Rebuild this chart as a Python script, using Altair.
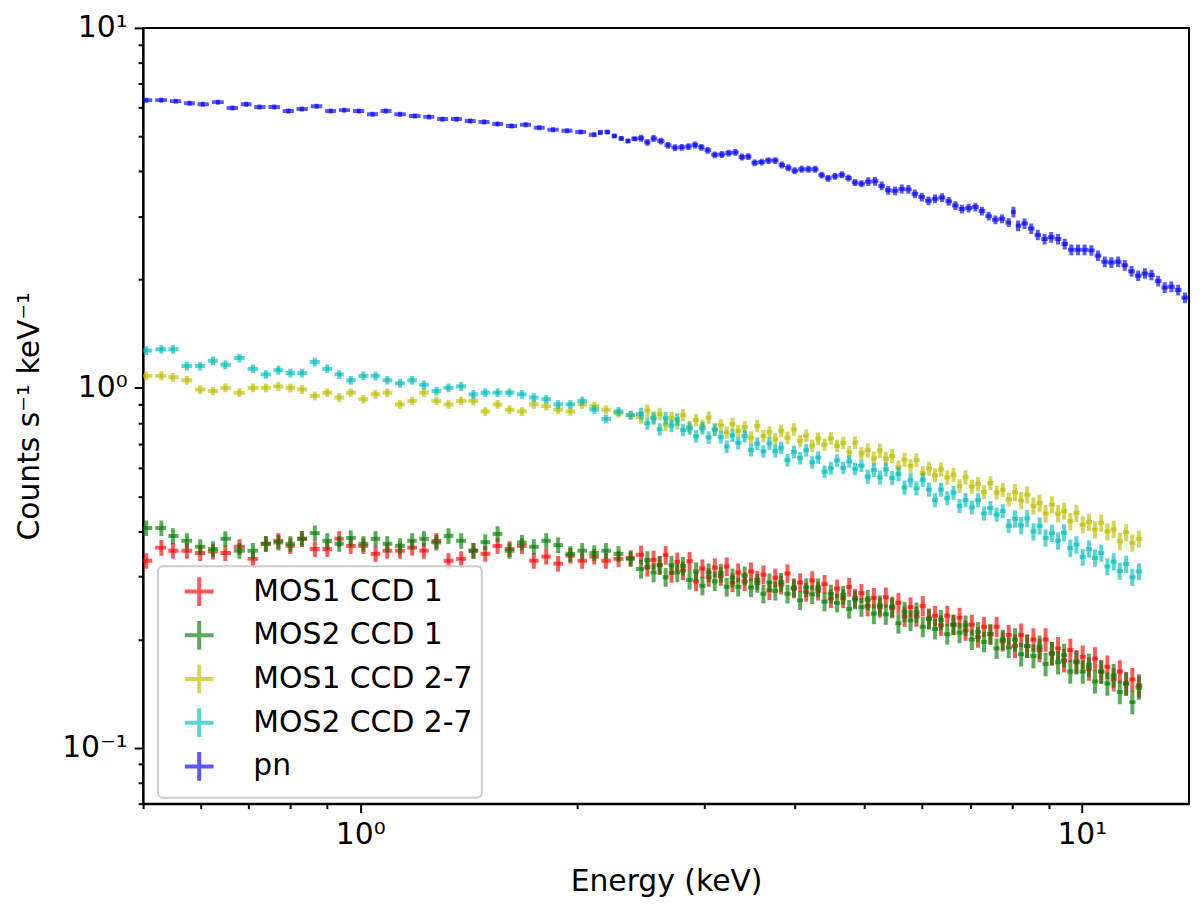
import altair as alt
import numpy as np
import pandas as pd

# MOS spectra share one energy grid (bin centres, keV)
MOS_ENERGY = [
    0.505, 0.53, 0.55, 0.575, 0.60, 0.625, 0.65, 0.68, 0.71, 0.74,
    0.77, 0.80, 0.83, 0.865, 0.90, 0.935, 0.97, 1.01, 1.05, 1.09,
    1.135, 1.18, 1.225, 1.275, 1.325, 1.38, 1.435, 1.49, 1.55, 1.61,
    1.675, 1.74, 1.81, 1.88, 1.955, 2.03, 2.11, 2.19, 2.28, 2.37,
    2.45, 2.50, 2.55, 2.60, 2.65, 2.70, 2.75, 2.80, 2.86, 2.92,
    2.98, 3.04, 3.10, 3.16, 3.22, 3.28, 3.34, 3.41, 3.48, 3.55,
    3.62, 3.69, 3.76, 3.83, 3.91, 3.99, 4.07, 4.15, 4.23, 4.31,
    4.40, 4.49, 4.58, 4.67, 4.76, 4.85, 4.95, 5.05, 5.15, 5.25,
    5.35, 5.46, 5.57, 5.68, 5.79, 5.90, 6.02, 6.14, 6.26, 6.38,
    6.51, 6.64, 6.77, 6.90, 7.04, 7.18, 7.32, 7.47, 7.62, 7.77,
    7.92, 8.08, 8.24, 8.40, 8.57, 8.74, 8.91, 9.09, 9.27, 9.45,
    9.64, 9.83, 10.03, 10.23, 10.43, 10.64, 10.85, 11.07, 11.29, 11.52,
    11.75, 12.00,
]

MOS1_CCD1 = [
    0.331, 0.360, 0.353, 0.353, 0.348, 0.351, 0.348, 0.362, 0.335, 0.369,
    0.376, 0.364, 0.381, 0.357, 0.357, 0.381, 0.364, 0.364, 0.346, 0.353,
    0.353, 0.360, 0.353, 0.376, 0.331, 0.335, 0.353, 0.346, 0.364, 0.357,
    0.364, 0.331, 0.340, 0.325, 0.342, 0.331, 0.340, 0.331, 0.335, 0.337,
    0.344, 0.318, 0.333, 0.322, 0.343, 0.306, 0.329, 0.311, 0.330, 0.290,
    0.315, 0.298, 0.317, 0.300, 0.319, 0.288, 0.307, 0.290, 0.309, 0.293,
    0.303, 0.274, 0.297, 0.284, 0.305, 0.277, 0.288, 0.271, 0.292, 0.273,
    0.285, 0.260, 0.277, 0.260, 0.280, 0.261, 0.269, 0.248, 0.261, 0.246,
    0.262, 0.245, 0.253, 0.232, 0.246, 0.232, 0.248, 0.229, 0.233, 0.219,
    0.233, 0.220, 0.230, 0.212, 0.220, 0.203, 0.217, 0.207, 0.217, 0.198,
    0.206, 0.192, 0.206, 0.192, 0.200, 0.187, 0.200, 0.183, 0.189, 0.175,
    0.187, 0.174, 0.179, 0.166, 0.177, 0.163, 0.168, 0.155, 0.163, 0.151,
    0.155, 0.149,
]

MOS2_CCD1 = [
    0.408, 0.408, 0.388, 0.376, 0.362, 0.357, 0.381, 0.353, 0.353, 0.369,
    0.372, 0.369, 0.381, 0.395, 0.376, 0.369, 0.383, 0.369, 0.381, 0.369,
    0.364, 0.376, 0.381, 0.372, 0.388, 0.376, 0.353, 0.373, 0.393, 0.353,
    0.372, 0.362, 0.376, 0.366, 0.346, 0.353, 0.348, 0.353, 0.346, 0.335,
    0.314, 0.332, 0.307, 0.322, 0.298, 0.322, 0.307, 0.320, 0.293, 0.309,
    0.282, 0.307, 0.290, 0.306, 0.280, 0.297, 0.280, 0.301, 0.279, 0.287,
    0.268, 0.288, 0.273, 0.289, 0.268, 0.279, 0.257, 0.279, 0.267, 0.279,
    0.255, 0.268, 0.253, 0.266, 0.243, 0.258, 0.246, 0.258, 0.236, 0.249,
    0.235, 0.247, 0.222, 0.239, 0.226, 0.238, 0.217, 0.228, 0.214, 0.227,
    0.207, 0.220, 0.209, 0.219, 0.200, 0.210, 0.197, 0.207, 0.189, 0.200,
    0.190, 0.200, 0.182, 0.192, 0.180, 0.191, 0.171, 0.183, 0.173, 0.181,
    0.163, 0.173, 0.163, 0.170, 0.153, 0.163, 0.151, 0.159, 0.143, 0.151,
    0.134, 0.147,
]

MOS1_CCD27 = [
    1.08, 1.08, 1.07, 1.05, 0.99, 0.98, 1.00, 0.97, 1.00, 1.00,
    1.01, 1.00, 0.99, 0.95, 0.97, 0.94, 0.97, 0.93, 0.96, 0.97,
    0.90, 0.92, 0.97, 0.92, 0.90, 0.92, 0.92, 0.86, 0.90, 0.87,
    0.86, 0.90, 0.89, 0.87, 0.86, 0.90, 0.89, 0.87, 0.85, 0.84,
    0.829, 0.865, 0.827, 0.846, 0.790, 0.826, 0.797, 0.840, 0.779, 0.814,
    0.785, 0.827, 0.767, 0.787, 0.752, 0.794, 0.759, 0.778, 0.728, 0.784,
    0.735, 0.753, 0.720, 0.760, 0.727, 0.767, 0.712, 0.737, 0.691, 0.723,
    0.696, 0.724, 0.690, 0.704, 0.663, 0.705, 0.658, 0.671, 0.637, 0.670,
    0.636, 0.647, 0.602, 0.632, 0.607, 0.630, 0.580, 0.597, 0.572, 0.594,
    0.564, 0.574, 0.534, 0.565, 0.532, 0.541, 0.514, 0.544, 0.512, 0.521,
    0.490, 0.513, 0.487, 0.505, 0.470, 0.479, 0.448, 0.474, 0.448, 0.455,
    0.426, 0.449, 0.417, 0.424, 0.404, 0.422, 0.399, 0.405, 0.375, 0.397,
    0.371, 0.381,
]

MOS2_CCD27 = [
    1.27, 1.28, 1.28, 1.15, 1.15, 1.19, 1.16, 1.21, 1.13, 1.09,
    1.12, 1.10, 1.10, 1.18, 1.13, 1.09, 1.05, 1.08, 1.08, 1.05,
    1.03, 1.05, 1.02, 0.98, 1.00, 1.01, 0.96, 0.97, 0.97, 0.97,
    0.96, 0.94, 0.93, 0.90, 0.90, 0.92, 0.87, 0.82, 0.86, 0.84,
    0.847, 0.797, 0.823, 0.767, 0.824, 0.785, 0.817, 0.764, 0.772, 0.734,
    0.773, 0.728, 0.766, 0.730, 0.687, 0.738, 0.703, 0.735, 0.672, 0.700,
    0.666, 0.701, 0.668, 0.682, 0.630, 0.664, 0.638, 0.671, 0.621, 0.641,
    0.585, 0.598, 0.629, 0.600, 0.625, 0.596, 0.608, 0.567, 0.592, 0.564,
    0.594, 0.562, 0.576, 0.529, 0.554, 0.526, 0.555, 0.522, 0.488, 0.522,
    0.494, 0.512, 0.470, 0.488, 0.466, 0.488, 0.448, 0.464, 0.445, 0.455,
    0.414, 0.433, 0.415, 0.434, 0.399, 0.414, 0.383, 0.395, 0.376, 0.396,
    0.359, 0.367, 0.339, 0.357, 0.337, 0.348, 0.319, 0.329, 0.310, 0.324,
    0.298, 0.309,
]

PN_ENERGY = [
    0.505, 0.53, 0.555, 0.58, 0.605, 0.635, 0.665, 0.695, 0.725, 0.76,
    0.795, 0.83, 0.87, 0.91, 0.95, 0.995, 1.04, 1.085, 1.135, 1.19,
    1.245, 1.30, 1.36, 1.42, 1.485, 1.55, 1.62, 1.695, 1.77, 1.85,
    1.935, 2.02, 2.11,
    2.15, 2.20, 2.25, 2.30, 2.35, 2.40, 2.45, 2.50, 2.55, 2.61,
    2.67, 2.73, 2.79, 2.85, 2.91, 2.97, 3.03, 3.10, 3.17, 3.24,
    3.31, 3.38, 3.45, 3.52, 3.60, 3.68, 3.76, 3.84, 3.92, 4.00,
    4.09, 4.18, 4.27, 4.36, 4.45, 4.55, 4.65, 4.75, 4.85, 4.95,
    5.06, 5.17, 5.28, 5.39, 5.51, 5.63, 5.75, 5.87, 6.00, 6.13,
    6.26, 6.40, 6.54, 6.68, 6.82, 6.97, 7.12, 7.27, 7.43, 7.59,
    7.75, 7.92, 8.04, 8.16, 8.33, 8.51, 8.69, 8.88, 9.07, 9.27,
    9.47, 9.67, 9.88, 10.09, 10.31, 10.53, 10.76, 10.99, 11.23, 11.47,
    11.72, 11.97, 12.23, 12.49, 12.76, 13.03, 13.31, 13.60, 13.90,
]

PN_RATE = [
    6.30, 6.30, 6.26, 6.18, 6.14, 6.22, 5.99, 6.14, 6.03, 6.03,
    5.88, 5.95, 6.06, 5.88, 5.91, 5.88, 5.76, 5.88, 5.76, 5.69,
    5.66, 5.58, 5.58, 5.51, 5.48, 5.41, 5.34, 5.38, 5.28, 5.21,
    5.18, 5.14, 5.05,
    5.12, 5.14, 5.01, 4.93, 4.85, 4.92, 4.94, 4.81, 4.93, 4.85,
    4.72, 4.65, 4.66, 4.68, 4.73, 4.66, 4.57, 4.44, 4.45, 4.49,
    4.51, 4.38, 4.39, 4.22, 4.24, 4.28, 4.28, 4.16, 4.09, 4.01,
    4.05, 4.05, 4.05, 3.90, 3.82, 3.87, 3.91, 3.83, 3.72, 3.69,
    3.74, 3.75, 3.64, 3.54, 3.53, 3.57, 3.56, 3.46, 3.39, 3.31,
    3.35, 3.38, 3.30, 3.21, 3.14, 3.16, 3.18, 3.10, 3.00, 2.93,
    2.95, 2.88, 3.08, 2.82, 2.86, 2.77, 2.66, 2.59, 2.62, 2.59,
    2.51, 2.42, 2.42, 2.42, 2.41, 2.33, 2.24, 2.23, 2.24, 2.19,
    2.11, 2.05, 2.08, 2.06, 1.98, 1.90, 1.91, 1.87, 1.78,
]

# fractional errors, per energy band (<2.4, <5, <8, above)
ERR_EDGES = [2.4, 5.0, 8.0]
ERR_CCD1 = [0.05, 0.06, 0.065, 0.075]
ERR_CCD27 = [0.028, 0.04, 0.045, 0.055]
ERR_PN = [0.016, 0.022, 0.028, 0.034]

SERIES = ["MOS1 CCD 1", "MOS2 CCD 1", "MOS1 CCD 2-7", "MOS2 CCD 2-7", "pn"]
COLORS = ["#ff0000", "#008000", "#bfbf00", "#00bfbf", "#0000ff"]

X_TICKS = [0.5, 0.6, 0.7, 0.8, 0.9, 1, 2, 3, 4, 5, 6, 7, 8, 9, 10]
Y_TICKS = [0.07, 0.08, 0.09, 0.1, 0.2, 0.3, 0.4, 0.5, 0.6, 0.7, 0.8, 0.9,
           1, 2, 3, 4, 5, 6, 7, 8, 9, 10]


def segments(name, energy, rate, err):
    """One horizontal (bin width) and one vertical (error) segment per point."""
    e = np.asarray(energy, float)
    r = np.asarray(rate, float)
    le = np.log10(e)
    mid = (le[1:] + le[:-1]) / 2
    lo = np.concatenate([[2 * le[0] - mid[0]], mid])
    hi = np.concatenate([mid, [2 * le[-1] - mid[-1]]])
    # wide soft-band bins leave a small gap, the narrow hard-band ones touch
    fill = np.where(e < 2.4, 0.8, 1.0)
    lo = le - fill * (le - lo)
    hi = le + fill * (hi - le)
    frac = np.asarray(err)[np.searchsorted(ERR_EDGES, e)]
    rows = []
    for i in range(len(e)):
        rows.append(dict(series=name, x=10 ** lo[i], x2=10 ** hi[i], y=r[i], y2=r[i]))
        rows.append(dict(series=name, x=e[i], x2=e[i],
                         y=r[i] * (1 - frac[i]), y2=r[i] * (1 + frac[i])))
    return rows


rows = []
rows += segments(SERIES[0], MOS_ENERGY, MOS1_CCD1, ERR_CCD1)
rows += segments(SERIES[1], MOS_ENERGY, MOS2_CCD1, ERR_CCD1)
rows += segments(SERIES[2], MOS_ENERGY, MOS1_CCD27, ERR_CCD27)
rows += segments(SERIES[3], MOS_ENERGY, MOS2_CCD27, ERR_CCD27)
rows += segments(SERIES[4], PN_ENERGY, PN_RATE, ERR_PN)
df = pd.DataFrame(rows)

FONT_SIZE = 30
major = "datum.value == 0.1 || datum.value == 1 || datum.value == 10"
axis_style = dict(
    labelFontSize=FONT_SIZE,
    labelColor="black",
    labelOverlap=False,
    labelFlush=False,
    labelPadding=7,
    titleFontSize=FONT_SIZE,
    titleFontWeight="normal",
    titleColor="black",
    tickColor="black",
    tickWidth=2,
    tickSize={"condition": {"test": major, "value": 9}, "value": 5},
    domainColor="black",
    domainWidth=2,
    grid=False,
)

chart = (
    alt.Chart(df)
    .mark_rule(strokeWidth=4, opacity=0.65, clip=True, strokeCap="butt")
    .encode(
        x=alt.X(
            "x:Q",
            scale=alt.Scale(type="log", domain=[0.5, 14.08], nice=False),
            axis=alt.Axis(
                title="Energy (keV)",
                values=X_TICKS,
                labelExpr="datum.value == 1 ? '10⁰' : datum.value == 10 ? '10¹' : ''",
                titlePadding=17,
                **axis_style,
            ),
        ),
        x2="x2:Q",
        y=alt.Y(
            "y:Q",
            scale=alt.Scale(type="log", domain=[0.07, 10], nice=False),
            axis=alt.Axis(
                title="Counts s⁻¹ keV⁻¹",
                values=Y_TICKS,
                labelExpr="datum.value == 1 ? '10⁰' : datum.value == 10 ? '10¹' : datum.value == 0.1 ? '10⁻¹' : ''",
                titlePadding=17,
                **axis_style,
            ),
        ),
        y2="y2:Q",
        color=alt.Color(
            "series:N",
            scale=alt.Scale(domain=SERIES, range=COLORS),
            legend=alt.Legend(
                title=None,
                orient="none",
                legendX=15,
                legendY=542,
                symbolType="M-1,0H1M0,-1V1",
                symbolSize=841,
                symbolStrokeWidth=4,
                symbolOpacity=0.65,
                symbolOffset=16,
                labelFontSize=FONT_SIZE,
                labelColor="black",
                labelLimit=500,
                labelOffset=38,
                rowPadding=-1,
                padding=9,
                fillColor="rgba(255,255,255,0.8)",
                strokeColor="#cccccc",
                cornerRadius=5,
            ),
        ),
    )
    .properties(
        width=1053,
        height=781,
        autosize=alt.AutoSizeParams(type="none"),
        padding={"left": 136, "top": 17, "right": 3, "bottom": 100},
    )
    .configure(font="DejaVu Sans")
    .configure_view(stroke="black", strokeWidth=2)
    .configure_legend(strokeWidth=2)
)

chart.save("out.html", embed_options={"renderer": "svg", "actions": False})
